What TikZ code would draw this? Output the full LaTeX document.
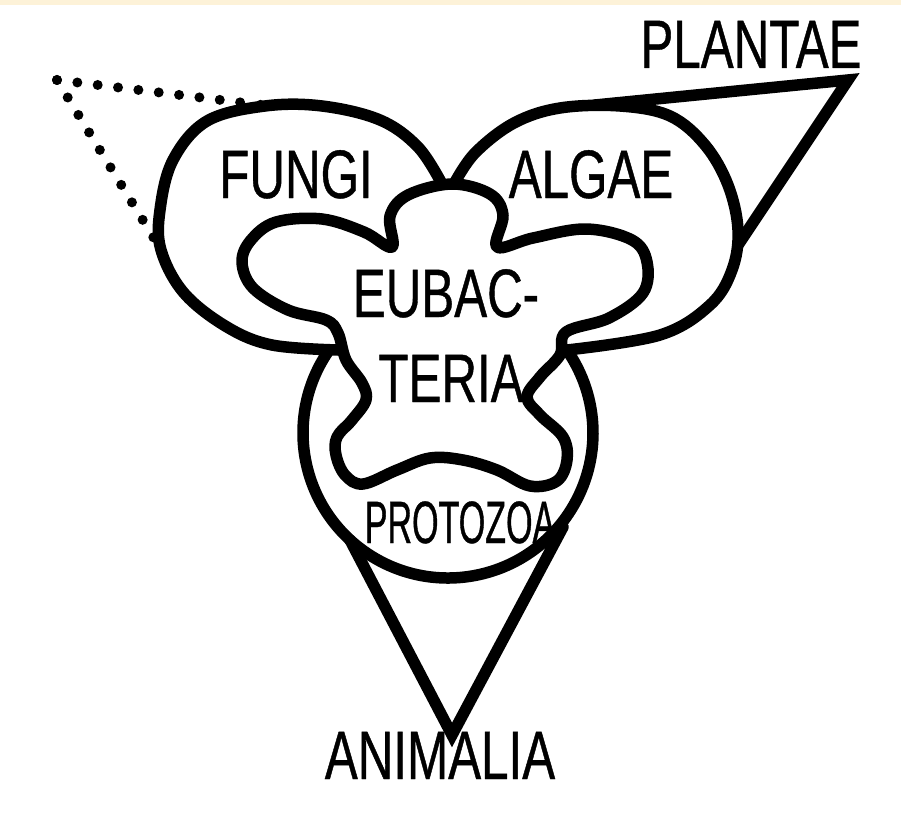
\documentclass[tikz,border=0pt]{standalone}
\usepackage{fontspec}
\newfontfamily\kingfont[FakeStretch=0.72, FakeBold=0.6]{Liberation Sans}
\newfontfamily\kingnarrow[FakeStretch=0.57, FakeBold=0.6]{Liberation Sans}
\definecolor{topband}{RGB}{253,242,216}
\begin{document}
\begin{tikzpicture}[x=0.02cm, y=-0.02cm,
    outline/.style={line width=0.23cm, line join=round, line cap=round},
    spike/.style={line width=0.23cm, line join=miter, line cap=round},
    dotline/.style={line width=0.2cm, line cap=round, dash pattern=on 0pt off 0.41cm},
    kingdom/.style={font=\kingfont\fontsize{39}{39}\selectfont, inner sep=0pt, anchor=base}]
	\useasboundingbox (0,0) rectangle (901,831);
	\fill[topband] (0,0) rectangle (901,5);

	% corners of the three triangles
	\coordinate (dots tip) at (57,80);
	\coordinate (plantae tip) at (848,80);
	\coordinate (animalia tip) at (452,735);

	% fungi and algae lobes
	\draw[outline] plot[smooth, tension=0.6] coordinates {(442,184) (418,147) (380,120) (322,106) (265,106) (207,121) (173,160) (160,210) (161,250) (184,293) (227,327) (272,345) (338,350)};
	\draw[outline] plot[smooth, tension=0.6] coordinates {(454,184) (475,153) (514,123) (560,108) (620,106) (670,116) (705,145) (728,185) (738,230) (732,270) (710,305) (660,335) (567,350)};

	% protozoa circle
	\draw[outline] (448,433) ++(213.7:145) arc (213.7:-33:145);

	% eubacteria
	\draw[outline] plot[smooth cycle, tension=0.6] coordinates {(452,184) (490,194) (503,215) (497,247) (533,238) (586,229) (632,240) (647,262) (643,293) (609,318) (566,332) (560,355) (540,377) (527,397) (540,415) (563,437) (567,460) (557,481) (530,486) (497,470) (463,460) (430,458) (397,470) (363,484) (345,475) (336,455) (337,437) (352,420) (366,400) (362,383) (346,360) (338,333) (326,320) (288,310) (253,288) (242,262) (251,240) (276,222) (322,219) (364,232) (392,247) (390,216) (408,195)};

	% triangles
	\draw[spike] (595,105) -- (plantae tip) -- (738,245);
	\draw[spike] (350,540) -- (animalia tip) -- (563,527);
	\draw[dotline] (dots tip) -- (270,106);
	\draw[dotline] (dots tip) -- (155,240);

	\node[kingdom] (plantae) at (751,68) {PLANTAE};
	\node[kingdom] (fungi) at (296,198) {FUNGI};
	\node[kingdom] (algae) at (591,198) {ALGAE};
	\node[kingdom] (eubac) at (446,317) {EUBAC-};
	\node[kingdom] (teria) at (451,402) {TERIA};
	\node[kingdom, font=\kingnarrow\fontsize{34}{34}\selectfont] (protozoa) at (460,543) {PROTOZOA};
	\node[kingdom] (animalia) at (440,779) {ANIMALIA};
\end{tikzpicture}
\end{document}
